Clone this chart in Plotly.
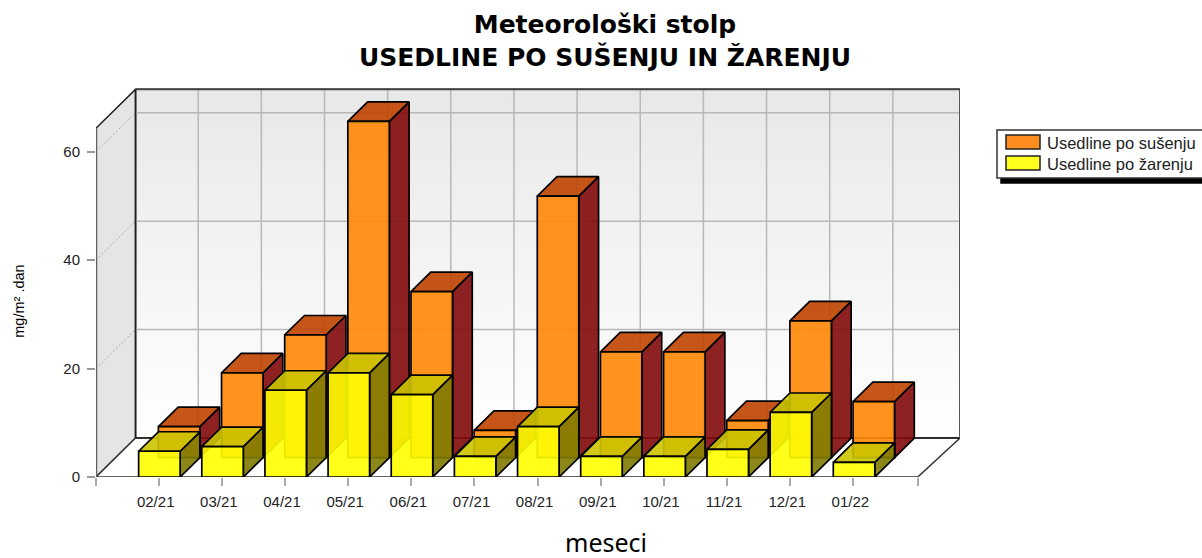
import plotly.graph_objects as go

categories = ["02/21","03/21","04/21","05/21","06/21","07/21","08/21","09/21","10/21","11/21","12/21","01/22"]
susenje = [5.7,15.6,22.6,62.0,30.6,5.0,48.2,19.5,19.5,6.8,25.2,10.3]
zarenje = [4.75,5.6,16.0,19.2,15.2,3.8,9.3,3.8,3.8,5.1,11.9,2.7]
y_ticks = [0,20,40,60]
series_names = ["Usedline po sušenju","Usedline po žarenju"]
title_text = "Meteorološki stolp<br>USEDLINE PO SUŠENJU IN ŽARENJU"

W, H = 1202, 558
L, R, T, B = 96, 960, 88, 477.5
PX_X = 63.15
PX_Y = 5.43
X0 = -(158.7-L)/PX_X
X1 = X0+(R-L)/PX_X
Y1 = (B-T)/PX_Y
DX, DY = 39.5/PX_X, 39/PX_Y
HW = 0.3286
SHIFT = 0.011
AX_L, AX_R, AX_T = X0, 12.02, 64.3

fig = go.Figure()

def deco(xs, ys, color="#000", width=1.5, fill=None, fillcolor=None, dash=None, **kw):
    fig.add_trace(go.Scatter(x=xs, y=ys, mode="lines", line=dict(color=color, width=width, dash=dash),
                             fill=fill, fillcolor=fillcolor, hoverinfo="skip", showlegend=False,
                             cliponaxis=False, **kw))

# back wall (gradient)
deco([AX_L+DX,X1,X1,AX_L+DX,AX_L+DX],[DY,DY,AX_T+DY,AX_T+DY,DY],color="#555",width=1.5,fill="toself",
     fillgradient=dict(type="vertical",colorscale=[[0,"#ffffff"],[1,"#e8e8e8"]]))
# left wall
deco([AX_L,AX_L+DX,AX_L+DX,AX_L,AX_L],[0,DY,AX_T+DY,AX_T,0],color="#222",width=1.5,fill="toself",fillcolor="#e5e5e5")
# floor
deco([AX_L,AX_L+DX,X1,AX_R,AX_L],[0,DY,DY,0,0],color="#333",width=1.5,fill="toself",fillcolor="#ffffff")
# grid
for t in y_ticks[1:]:
    deco([AX_L+DX,X1],[t+DY,t+DY],color="#b8b8b8",width=1.5)
    deco([AX_L,AX_L+DX],[t,t+DY],color="#aaaaaa",width=1,dash="2px,2px")
for i in range(len(categories)):
    deco([i+DX,i+DX],[DY,AX_T+DY],color="#b8b8b8",width=1.5)
# wall edges redrawn over grid
deco([AX_L+DX,X1],[DY,DY],color="#222",width=1.5)
deco([AX_L+DX,AX_L+DX],[DY,AX_T+DY],color="#222",width=1.5)
deco([AX_L+DX,X1],[AX_T+DY,AX_T+DY],color="#444",width=2)
deco([X1,X1],[DY,AX_T+DY],color="#555",width=2)

def bars(values, name, d0, d1, base, colors):
    fx,fy,tx,ty,sx,sy = [],[],[],[],[],[]
    for i,v in enumerate(values):
        l = i+SHIFT-HW+d0*DX; r = i+SHIFT+HW+d0*DX
        b = base; t = base+v
        ddx = (d1-d0)*DX; ddy = (d1-d0)*DY
        fx += [l,r,r,l,l,None]; fy += [b,b,t,t,b,None]
        tx += [l,r,r+ddx,l+ddx,l,None]; ty += [t,t,t+ddy,t+ddy,t,None]
        sx += [r,r+ddx,r+ddx,r,r,None]; sy += [b,b+ddy,t+ddy,t,b,None]
    for xs,ys,c in ((sx,sy,colors[2]),(tx,ty,colors[1]),(fx,fy,colors[0])):
        fig.add_trace(go.Scatter(x=xs,y=ys,mode="lines",fill="toself",fillcolor=c,
                                 line=dict(color="#000",width=1.7),name=name,showlegend=False,
                                 hoverinfo="skip",cliponaxis=False))

A = 0.9
bars(susenje, series_names[0], 0.5, 1.0, DY/2,
     (f"rgba(255,135,5,{A})", f"rgba(192,66,0,{A})", f"rgba(130,10,10,{A})"))
bars(zarenje, series_names[1], 0.0, 0.5, 0,
     (f"rgba(255,255,0,{A})", f"rgba(204,196,0,{A})", f"rgba(128,122,0,{A})"))

# front axes
deco([AX_L,AX_R],[-0.3,-0.3],color="#808080",width=2.5)
deco([AX_L,AX_L],[-0.3,AX_T],color="#606060",width=2.5)

tickvals_x = [AX_L]+list(range(len(categories)))+[AX_R]
ticktext_x = [""]+categories+[""]

fig.update_layout(
    width=W, height=H, autosize=False,
    margin=dict(l=L, r=W-R, t=T, b=H-B, pad=0),
    paper_bgcolor="#fff", plot_bgcolor="#fff", showlegend=False,
    title=dict(text=title_text, x=605/W, xanchor="center", y=1-33/H, yanchor="top",
               font=dict(family="DejaVu Sans", size=25, color="#000", weight=700)),
    xaxis=dict(range=[X0,X1], showgrid=False, zeroline=False, showline=False, tickmode="array",
               tickvals=tickvals_x, ticktext=ticktext_x, ticks="outside", ticklen=8, tickcolor="#aaa", tickwidth=1.5,
               ticklabelstandoff=3, ticklabelshift=-3,
               tickfont=dict(family="Liberation Sans", size=15, color="#222")),
    yaxis=dict(range=[0,Y1], showgrid=False, zeroline=False, showline=False, tickmode="array",
               tickvals=y_ticks, ticktext=[str(t) for t in y_ticks], ticks="outside", ticklen=8, tickcolor="#999", tickwidth=1.5,
               ticklabelstandoff=4,
               tickfont=dict(family="Liberation Sans", size=15, color="#222")),
)

def px(x): return (x-L)/(R-L)
def py(y): return (B-y)/(B-T)
def rect(x0,y0,x1,y1,fill,line=None,w=1.5):
    fig.add_shape(type="rect",xref="paper",yref="paper",x0=px(x0),x1=px(x1),y0=py(y0),y1=py(y1),
                  fillcolor=fill,line=dict(color=line or fill,width=w),layer="above")
rect(1001,135,1212,183,"#000")
rect(997,130,1208,178,"#fff","#333")
rect(1006,135,1040,149,"#ff8c1e","#222")
rect(1006,156,1040,170,"#ffff1e","#222")
for name,y in zip(series_names,(143.5,164.5)):
    fig.add_annotation(text=name,xref="paper",yref="paper",x=px(1045),y=py(y),xanchor="left",yanchor="middle",
                       showarrow=False,font=dict(family="Liberation Sans",size=16.5,color="#222"))
fig.add_annotation(text="meseci",xref="paper",yref="paper",x=px(606),y=py(543),xanchor="center",yanchor="middle",
                   showarrow=False,font=dict(family="Noto Sans",size=25,color="#000"))
fig.add_annotation(text="mg/m² .dan",xref="paper",yref="paper",x=px(19),y=py(302),xanchor="center",yanchor="middle",
                   textangle=-90,showarrow=False,font=dict(family="Liberation Sans",size=14.5,color="#000"))

fig.write_html("out.html", config=dict(displayModeBar=False),
               post_script="document.body.style.margin='0';document.documentElement.style.overflow='hidden';")
